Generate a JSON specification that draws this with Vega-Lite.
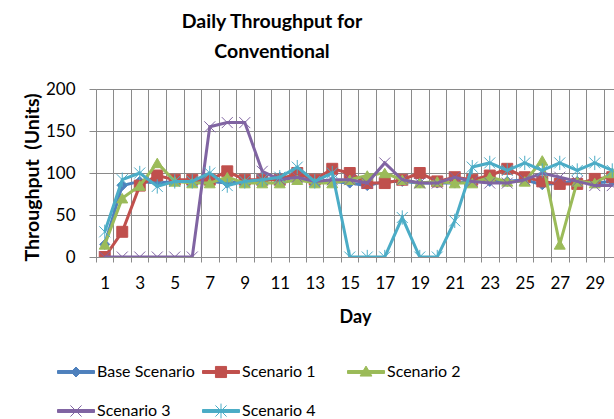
{
  "$schema": "https://vega.github.io/schema/vega-lite/v6.json",
  "autosize": "none",
  "width": 518,
  "height": 168,
  "padding": {"left": 96, "top": 89, "right": 0, "bottom": 162},
  "background": "white",
  "config": {
    "font": "Lato",
    "view": {"stroke": null},
    "axis": {"labelFont": "Lato", "titleFont": "Lato", "labelColor": "#000", "titleColor": "#000"}
  },
  "title": {
    "text": ["Daily Throughput for", "Conventional"],
    "font": "Lato",
    "fontSize": 19.5,
    "fontWeight": "bold",
    "color": "#000",
    "anchor": "middle",
    "frame": "group",
    "dx": -83,
    "offset": 18,
    "lineHeight": 30
  },
  "data": {
    "values": [
      {"series": "Base Scenario", "day": 1, "value": 15}, {"series": "Base Scenario", "day": 2, "value": 85}, {"series": "Base Scenario", "day": 3, "value": 90}, {"series": "Base Scenario", "day": 4, "value": 88}, {"series": "Base Scenario", "day": 5, "value": 90}, {"series": "Base Scenario", "day": 6, "value": 90}, {"series": "Base Scenario", "day": 7, "value": 90}, {"series": "Base Scenario", "day": 8, "value": 88}, {"series": "Base Scenario", "day": 9, "value": 90}, {"series": "Base Scenario", "day": 10, "value": 90},
      {"series": "Base Scenario", "day": 11, "value": 95}, {"series": "Base Scenario", "day": 12, "value": 95}, {"series": "Base Scenario", "day": 13, "value": 90}, {"series": "Base Scenario", "day": 14, "value": 90}, {"series": "Base Scenario", "day": 15, "value": 88}, {"series": "Base Scenario", "day": 16, "value": 85}, {"series": "Base Scenario", "day": 17, "value": 90}, {"series": "Base Scenario", "day": 18, "value": 90}, {"series": "Base Scenario", "day": 19, "value": 88}, {"series": "Base Scenario", "day": 20, "value": 88},
      {"series": "Base Scenario", "day": 21, "value": 88}, {"series": "Base Scenario", "day": 22, "value": 90}, {"series": "Base Scenario", "day": 23, "value": 90}, {"series": "Base Scenario", "day": 24, "value": 90}, {"series": "Base Scenario", "day": 25, "value": 92}, {"series": "Base Scenario", "day": 26, "value": 86}, {"series": "Base Scenario", "day": 27, "value": 88}, {"series": "Base Scenario", "day": 28, "value": 90}, {"series": "Base Scenario", "day": 29, "value": 88}, {"series": "Base Scenario", "day": 30, "value": 90},
      {"series": "Scenario 1", "day": 1, "value": 0}, {"series": "Scenario 1", "day": 2, "value": 30}, {"series": "Scenario 1", "day": 3, "value": 85}, {"series": "Scenario 1", "day": 4, "value": 97}, {"series": "Scenario 1", "day": 5, "value": 92}, {"series": "Scenario 1", "day": 6, "value": 92}, {"series": "Scenario 1", "day": 7, "value": 92}, {"series": "Scenario 1", "day": 8, "value": 102}, {"series": "Scenario 1", "day": 9, "value": 92}, {"series": "Scenario 1", "day": 10, "value": 92},
      {"series": "Scenario 1", "day": 11, "value": 92}, {"series": "Scenario 1", "day": 12, "value": 100}, {"series": "Scenario 1", "day": 13, "value": 92}, {"series": "Scenario 1", "day": 14, "value": 105}, {"series": "Scenario 1", "day": 15, "value": 100}, {"series": "Scenario 1", "day": 16, "value": 88}, {"series": "Scenario 1", "day": 17, "value": 88}, {"series": "Scenario 1", "day": 18, "value": 92}, {"series": "Scenario 1", "day": 19, "value": 100}, {"series": "Scenario 1", "day": 20, "value": 90},
      {"series": "Scenario 1", "day": 21, "value": 95}, {"series": "Scenario 1", "day": 22, "value": 92}, {"series": "Scenario 1", "day": 23, "value": 97}, {"series": "Scenario 1", "day": 24, "value": 105}, {"series": "Scenario 1", "day": 25, "value": 95}, {"series": "Scenario 1", "day": 26, "value": 90}, {"series": "Scenario 1", "day": 27, "value": 87}, {"series": "Scenario 1", "day": 28, "value": 87}, {"series": "Scenario 1", "day": 29, "value": 93}, {"series": "Scenario 1", "day": 30, "value": 95},
      {"series": "Scenario 2", "day": 1, "value": 15}, {"series": "Scenario 2", "day": 2, "value": 70}, {"series": "Scenario 2", "day": 3, "value": 85}, {"series": "Scenario 2", "day": 4, "value": 112}, {"series": "Scenario 2", "day": 5, "value": 90}, {"series": "Scenario 2", "day": 6, "value": 88}, {"series": "Scenario 2", "day": 7, "value": 88}, {"series": "Scenario 2", "day": 8, "value": 95}, {"series": "Scenario 2", "day": 9, "value": 88}, {"series": "Scenario 2", "day": 10, "value": 88},
      {"series": "Scenario 2", "day": 11, "value": 88}, {"series": "Scenario 2", "day": 12, "value": 92}, {"series": "Scenario 2", "day": 13, "value": 88}, {"series": "Scenario 2", "day": 14, "value": 88}, {"series": "Scenario 2", "day": 15, "value": 92}, {"series": "Scenario 2", "day": 16, "value": 97}, {"series": "Scenario 2", "day": 17, "value": 100}, {"series": "Scenario 2", "day": 18, "value": 92}, {"series": "Scenario 2", "day": 19, "value": 88}, {"series": "Scenario 2", "day": 20, "value": 90},
      {"series": "Scenario 2", "day": 21, "value": 88}, {"series": "Scenario 2", "day": 22, "value": 88}, {"series": "Scenario 2", "day": 23, "value": 95}, {"series": "Scenario 2", "day": 24, "value": 90}, {"series": "Scenario 2", "day": 25, "value": 90}, {"series": "Scenario 2", "day": 26, "value": 115}, {"series": "Scenario 2", "day": 27, "value": 15}, {"series": "Scenario 2", "day": 28, "value": 90}, {"series": "Scenario 2", "day": 29, "value": 88}, {"series": "Scenario 2", "day": 30, "value": 100},
      {"series": "Scenario 3", "day": 1, "value": 0}, {"series": "Scenario 3", "day": 2, "value": 0}, {"series": "Scenario 3", "day": 3, "value": 0}, {"series": "Scenario 3", "day": 4, "value": 0}, {"series": "Scenario 3", "day": 5, "value": 0}, {"series": "Scenario 3", "day": 6, "value": 0}, {"series": "Scenario 3", "day": 7, "value": 155}, {"series": "Scenario 3", "day": 8, "value": 160}, {"series": "Scenario 3", "day": 9, "value": 160}, {"series": "Scenario 3", "day": 10, "value": 102},
      {"series": "Scenario 3", "day": 11, "value": 92}, {"series": "Scenario 3", "day": 12, "value": 95}, {"series": "Scenario 3", "day": 13, "value": 90}, {"series": "Scenario 3", "day": 14, "value": 92}, {"series": "Scenario 3", "day": 15, "value": 92}, {"series": "Scenario 3", "day": 16, "value": 88}, {"series": "Scenario 3", "day": 17, "value": 112}, {"series": "Scenario 3", "day": 18, "value": 92}, {"series": "Scenario 3", "day": 19, "value": 88}, {"series": "Scenario 3", "day": 20, "value": 88},
      {"series": "Scenario 3", "day": 21, "value": 95}, {"series": "Scenario 3", "day": 22, "value": 90}, {"series": "Scenario 3", "day": 23, "value": 88}, {"series": "Scenario 3", "day": 24, "value": 88}, {"series": "Scenario 3", "day": 25, "value": 92}, {"series": "Scenario 3", "day": 26, "value": 100}, {"series": "Scenario 3", "day": 27, "value": 95}, {"series": "Scenario 3", "day": 28, "value": 90}, {"series": "Scenario 3", "day": 29, "value": 85}, {"series": "Scenario 3", "day": 30, "value": 85},
      {"series": "Scenario 4", "day": 1, "value": 30}, {"series": "Scenario 4", "day": 2, "value": 92}, {"series": "Scenario 4", "day": 3, "value": 100}, {"series": "Scenario 4", "day": 4, "value": 84}, {"series": "Scenario 4", "day": 5, "value": 90}, {"series": "Scenario 4", "day": 6, "value": 90}, {"series": "Scenario 4", "day": 7, "value": 100}, {"series": "Scenario 4", "day": 8, "value": 85}, {"series": "Scenario 4", "day": 9, "value": 90}, {"series": "Scenario 4", "day": 10, "value": 92},
      {"series": "Scenario 4", "day": 11, "value": 95}, {"series": "Scenario 4", "day": 12, "value": 107}, {"series": "Scenario 4", "day": 13, "value": 90}, {"series": "Scenario 4", "day": 14, "value": 100}, {"series": "Scenario 4", "day": 15, "value": 0}, {"series": "Scenario 4", "day": 16, "value": 0}, {"series": "Scenario 4", "day": 17, "value": 0}, {"series": "Scenario 4", "day": 18, "value": 47}, {"series": "Scenario 4", "day": 19, "value": 0}, {"series": "Scenario 4", "day": 20, "value": 0},
      {"series": "Scenario 4", "day": 21, "value": 43}, {"series": "Scenario 4", "day": 22, "value": 107}, {"series": "Scenario 4", "day": 23, "value": 112}, {"series": "Scenario 4", "day": 24, "value": 103}, {"series": "Scenario 4", "day": 25, "value": 112}, {"series": "Scenario 4", "day": 26, "value": 103}, {"series": "Scenario 4", "day": 27, "value": 112}, {"series": "Scenario 4", "day": 28, "value": 103}, {"series": "Scenario 4", "day": 29, "value": 112}, {"series": "Scenario 4", "day": 30, "value": 103}
    ]
  },
  "encoding": {
    "x": {
      "field": "day", "type": "quantitative",
      "scale": {"domain": [0.5, 30.1], "nice": false, "zero": false},
      "axis": {
        "values": [0.5,1.5,2.5,3.5,4.5,5.5,6.5,7.5,8.5,9.5,10.5,11.5,12.5,13.5,14.5,15.5,16.5,17.5,18.5,19.5,20.5,21.5,22.5,23.5,24.5,25.5,26.5,27.5,28.5,29.5],
        "labelExpr": "(datum.value + 0.5) % 2 == 1 ? '' + (datum.value + 0.5) : ''",
        "labelOffset": 8.75,
        "labelFlush": false,
        "labelOverlap": false,
        "labelFontSize": 17,
        "labelPadding": 13,
        "grid": true,
        "gridColor": "#8a8a8a",
        "gridOpacity": 1,
        "tickColor": "#8a8a8a",
        "tickSize": 5,
        "domainColor": "#8a8a8a",
        "title": "Day",
        "titleFontSize": 18,
        "titleFontWeight": "bold",
        "titlePadding": 17
      }
    },
    "y": {
      "field": "value", "type": "quantitative",
      "scale": {"domain": [0, 200], "nice": false},
      "axis": {
        "values": [0, 50, 100, 150, 200],
        "labelFontSize": 17,
        "labelPadding": 14,
        "grid": true,
        "gridColor": "#8a8a8a",
        "gridOpacity": 1,
        "tickColor": "#8a8a8a",
        "tickSize": 7,
        "domainColor": "#8a8a8a",
        "title": "Throughput \u00a0(Units)",
        "titleFontSize": 19.5,
        "titleFontWeight": "bold",
        "titlePadding": 3,
        "titleY": 88
      }
    },
    "color": {
      "field": "series", "type": "nominal",
      "scale": {
        "domain": ["Base Scenario", "Scenario 1", "Scenario 2", "Scenario 3", "Scenario 4"],
        "range": ["#4F81BD", "#C0504D", "#9BBB59", "#8064A2", "#4BACC6"]
      },
      "legend": {
        "orient": "none",
        "direction": "horizontal",
        "legendX": -39,
        "legendY": 263,
        "title": null,
        "columns": 3,
        "gridAlign": "all",
        "columnPadding": 5,
        "rowPadding": 11,
        "symbolSize": 1369,
        "symbolStrokeWidth": 1,
        "labelFont": "Lato",
        "labelFontSize": 16,
        "labelColor": "#000",
        "labelOffset": 2,
        "encode": {
          "symbols": {
            "update": {
              "shape": {"signal": "datum.value === 'Base Scenario' ? 'M-1,-0.08L1,-0.08L1,0.08L-1,0.08ZM0,-0.27L0.27,0L0,0.27L-0.27,0Z' : datum.value === 'Scenario 1' ? 'M-1,-0.08L1,-0.08L1,0.08L-1,0.08ZM-0.3,-0.3L0.3,-0.3L0.3,0.3L-0.3,0.3Z' : datum.value === 'Scenario 2' ? 'M-1,-0.08L1,-0.08L1,0.08L-1,0.08ZM0,-0.32L0.32,0.22L-0.32,0.22Z' : datum.value === 'Scenario 3' ? 'M-1,-0.08L1,-0.08L1,0.08L-1,0.08ZM-0.3,-0.3L0.3,0.3M-0.3,0.3L0.3,-0.3' : 'M-1,-0.08L1,-0.08L1,0.08L-1,0.08ZM-0.3,-0.3L0.3,0.3M-0.3,0.3L0.3,-0.3M0,-0.4L0,0.4'"},
              "fill": {"scale": "color", "field": "value"},
              "stroke": {"scale": "color", "field": "value"},
              "strokeWidth": {"value": 1},
              "opacity": {"value": 1}
            }
          }
        }
      }
    }
  },
  "layer": [
    {"transform": [{"filter": "datum.series === 'Base Scenario'"}], "mark": {"type": "line", "strokeWidth": 3, "clip": true}},
    {"transform": [{"filter": "datum.series === 'Base Scenario'"}], "mark": {"type": "point", "shape": "diamond", "filled": true, "size": 100, "stroke": "#4F81BD", "strokeWidth": 1, "opacity": 1, "clip": true}},
    {"transform": [{"filter": "datum.series === 'Scenario 1'"}], "mark": {"type": "line", "strokeWidth": 3, "clip": true}},
    {"transform": [{"filter": "datum.series === 'Scenario 1'"}], "mark": {"type": "point", "shape": "square", "filled": true, "size": 120, "stroke": "#C0504D", "strokeWidth": 1, "opacity": 1, "clip": true}},
    {"transform": [{"filter": "datum.series === 'Scenario 2'"}], "mark": {"type": "line", "strokeWidth": 3, "clip": true}},
    {"transform": [{"filter": "datum.series === 'Scenario 2'"}], "mark": {"type": "point", "shape": "triangle-up", "filled": true, "size": 120, "stroke": "#9BBB59", "strokeWidth": 1, "opacity": 1, "clip": true}},
    {"transform": [{"filter": "datum.series === 'Scenario 3'"}], "mark": {"type": "line", "strokeWidth": 3, "clip": true}},
    {"transform": [{"filter": "datum.series === 'Scenario 3'"}], "mark": {"type": "point", "shape": "M-1,-1L1,1M-1,1L1,-1", "filled": true, "size": 121, "stroke": "#8064A2", "strokeWidth": 1, "opacity": 1, "clip": true}},
    {"transform": [{"filter": "datum.series === 'Scenario 4'"}], "mark": {"type": "line", "strokeWidth": 3, "clip": true}},
    {"transform": [{"filter": "datum.series === 'Scenario 4'"}], "mark": {"type": "point", "shape": "M-1,-1L1,1M-1,1L1,-1M0,-1.3L0,1.3", "filled": true, "size": 121, "stroke": "#4BACC6", "strokeWidth": 1, "opacity": 1, "clip": true}}
  ]
}
